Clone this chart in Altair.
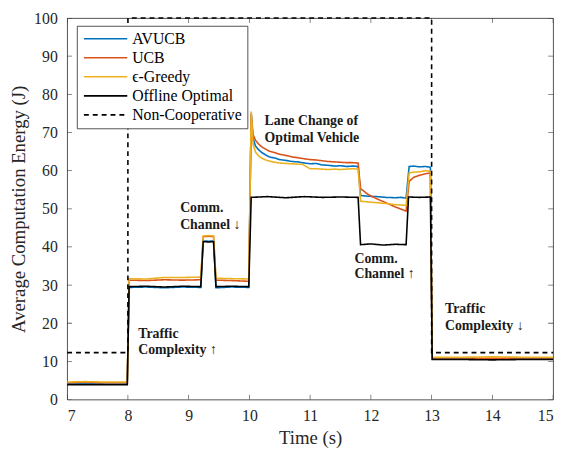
import altair as alt
import pandas as pd

FONT = "Liberation Serif, Times New Roman, Times, DejaVu Serif, serif"
INK = "#262626"

series_names = ["AVUCB", "UCB", "ϵ-Greedy", "Offline Optimal", "Non-Cooperative"]
series_colors = ["#0072BD", "#D95319", "#EDB120", "#000000", "#000000"]
series_dash = [[1, 0], [1, 0], [1, 0], [1, 0], [5, 4]]

x_ticks = [7, 8, 9, 10, 11, 12, 13, 14, 15]
y_ticks = [0, 10, 20, 30, 40, 50, 60, 70, 80, 90, 100]

# time samples shared by the three learning schemes
t_learn = [7.0, 7.3, 7.6, 7.99, 8.02, 8.3, 8.6, 8.9, 9.2, 9.24, 9.33, 9.41, 9.45, 9.7, 9.99,
           10.03, 10.06, 10.1, 10.15, 10.2, 10.27, 10.33, 10.42, 10.5, 10.6, 10.7, 10.8, 10.87,
           11.0, 11.1, 11.2, 11.3, 11.41, 11.5, 11.6, 11.7, 11.79,
           11.83, 11.95, 12.1, 12.25, 12.4, 12.5, 12.58,
           12.63, 12.7, 12.8, 12.9, 12.98,
           13.01, 13.5, 14.0, 14.5, 15.0]

avucb_v = [4.1, 4.2, 4.1, 4.1, 29.4, 29.5, 29.3, 29.5, 29.4, 41.6, 41.5, 41.6, 29.3, 29.5, 29.4,
           75.0, 68.5, 66.5, 65.5, 64.8, 64.1, 63.6, 63.3, 62.9, 62.7, 62.4, 62.3, 62.1,
           61.8, 61.9, 61.5, 61.4, 61.2, 61.3, 61.1, 61.2, 61.1,
           53.5, 53.3, 53.2, 53.0, 52.9, 53.0, 52.8,
           61.1, 61.2, 61.0, 61.1, 60.9,
           10.6, 10.6, 10.7, 10.6, 10.6]

ucb_v = [4.4, 4.5, 4.4, 4.4, 31.3, 31.2, 31.4, 31.3, 31.4, 42.7, 42.8, 42.7, 31.3, 31.2, 31.0,
         75.0, 69.5, 68.0, 67.0, 66.3, 65.6, 65.1, 64.7, 64.3, 64.0, 63.6, 63.4, 63.2,
         62.9, 62.8, 62.6, 62.4, 62.3, 62.2, 62.1, 62.1, 62.0,
         55.3, 53.8, 52.6, 51.6, 50.5, 49.9, 49.4,
         57.2, 58.2, 58.8, 59.2, 59.4,
         10.9, 10.9, 10.8, 10.9, 10.9]

greedy_v = [4.6, 4.7, 4.6, 4.6, 31.7, 31.6, 32.0, 32.0, 32.1, 42.9, 43.0, 42.9, 31.8, 31.7, 31.6,
            75.5, 67.0, 64.9, 63.9, 63.3, 62.8, 62.5, 62.2, 62.0, 61.9, 61.8, 61.7, 61.7,
            60.5, 60.5, 60.4, 60.3, 60.4, 60.3, 60.4, 60.5, 60.4,
            52.0, 51.8, 51.6, 51.4, 51.1, 51.0, 50.9,
            59.4, 59.6, 59.7, 60.0, 59.8,
            11.1, 11.1, 11.2, 11.1, 11.1]

t_opt = [7.0, 7.5, 7.99, 8.02, 8.3, 8.6, 8.9, 9.2, 9.24, 9.33, 9.41, 9.45, 9.7, 9.99,
         10.03, 10.3, 10.6, 10.9, 11.2, 11.5, 11.79, 11.83, 12.0, 12.2, 12.4, 12.58,
         12.62, 12.8, 12.98, 13.01, 13.5, 14.0, 14.5, 15.0]
opt_v = [3.9, 3.9, 3.9, 29.6, 29.7, 29.5, 29.7, 29.6, 41.4, 41.3, 41.4, 29.6, 29.7, 29.6,
         53.0, 53.2, 52.9, 53.2, 53.0, 53.1, 53.0, 40.6, 40.8, 40.5, 40.7, 40.6,
         53.1, 53.0, 53.1, 10.5, 10.5, 10.4, 10.5, 10.5]

t_noncoop = [7.0, 8.0, 8.0, 13.0, 13.0, 15.0]
noncoop_v = [12.3, 12.3, 100.0, 100.0, 12.3, 12.3]

ann_text = ["Lane Change of", "Optimal Vehicle", "Comm.", "Channel ↓", "Comm.", "Channel ↑",
            "Traffic", "Complexity ↑", "Traffic", "Complexity ↓"]
ann_t = [10.25, 10.25, 8.86, 8.86, 11.73, 11.73, 8.17, 8.17, 13.22, 13.22]
ann_v = [72.9, 68.5, 50.2, 45.7, 36.9, 32.8, 17.3, 12.9, 23.8, 19.2]

rows = []
for name, ts, vs in [("AVUCB", t_learn, avucb_v), ("UCB", t_learn, ucb_v),
                     ("ϵ-Greedy", t_learn, greedy_v), ("Offline Optimal", t_opt, opt_v),
                     ("Non-Cooperative", t_noncoop, noncoop_v)]:
    assert len(ts) == len(vs), name
    for i, (t, v) in enumerate(zip(ts, vs)):
        rows.append({"t": t, "v": v, "series": name, "i": i})
df = pd.DataFrame(rows)
ann = pd.DataFrame({"t": ann_t, "v": ann_v, "label": ann_text})
xt_df = pd.DataFrame({"t": x_ticks})
yt_df = pd.DataFrame({"v": y_ticks})

W, H = 493, 387
X_DOM = [7, 15]
Y_DOM = [0, 100]

xscale = alt.Scale(domain=X_DOM, nice=False, zero=False)
yscale = alt.Scale(domain=Y_DOM, nice=False)

axis_font = dict(labelFont=FONT, labelFontSize=16, labelColor=INK, labelFontWeight="normal",
                 titleFont=FONT, titleFontSize=19, titleFontWeight="normal", titleColor=INK)

ax_x_main = alt.Axis(orient="bottom", values=x_ticks, format="d", tickSize=0, domain=False,
                     grid=False, labelPadding=8, titlePadding=6, **axis_font)
ax_y_main = alt.Axis(orient="left", values=y_ticks, format="d", tickSize=0, domain=False,
                     grid=False, labelPadding=10, titlePadding=5, **axis_font)

legend_path = "M-4,0H4"

base = alt.Chart(df)
layers = []
for k, name in enumerate(series_names):
    if k == 0:
        xe = alt.X("t:Q", scale=xscale, axis=ax_x_main, title="Time (s)")
        ye = alt.Y("v:Q", scale=yscale, axis=ax_y_main, title="Average Computation Energy  (J)")
    else:
        xe = alt.X("t:Q", scale=xscale, axis=None)
        ye = alt.Y("v:Q", scale=yscale, axis=None)
    layers.append(
        base.transform_filter(alt.datum.series == name)
        .mark_line(strokeWidth=1.6)
        .encode(
            x=xe, y=ye,
            color=alt.Color("series:N", title=None,
                            scale=alt.Scale(domain=series_names, range=series_colors)),
            strokeDash=alt.StrokeDash("series:N", title=None,
                                      scale=alt.Scale(domain=series_names, range=series_dash)),
            order=alt.Order("i:Q"),
        )
    )

# inward ticks on all four sides (MATLAB box style); clipped to the plot area
tick_kw = dict(clip=True, size=10, thickness=0.8, color=INK)
xt_base = (alt.Chart(xt_df)
           .transform_calculate(lo=str(Y_DOM[0]), hi=str(Y_DOM[1]))
           .mark_tick(orient="vertical", **tick_kw))
yt_base = (alt.Chart(yt_df)
           .transform_calculate(lo=str(X_DOM[0]), hi=str(X_DOM[1]))
           .mark_tick(orient="horizontal", **tick_kw))
ticks = [
    xt_base.encode(x=alt.X("t:Q", scale=xscale, axis=None), y=alt.Y("lo:Q", scale=yscale, axis=None)),
    xt_base.encode(x=alt.X("t:Q", scale=xscale, axis=None), y=alt.Y("hi:Q", scale=yscale, axis=None)),
    yt_base.encode(y=alt.Y("v:Q", scale=yscale, axis=None), x=alt.X("lo:Q", scale=xscale, axis=None)),
    yt_base.encode(y=alt.Y("v:Q", scale=yscale, axis=None), x=alt.X("hi:Q", scale=xscale, axis=None)),
]

text = alt.Chart(ann).mark_text(
    align="left", baseline="middle", font=FONT, fontSize=14, fontWeight="bold", color="#1a1a1a"
).encode(
    x=alt.X("t:Q", scale=xscale, axis=None),
    y=alt.Y("v:Q", scale=yscale, axis=None),
    text="label:N",
)

chart = alt.layer(*layers, *ticks, text).resolve_axis(
    x="independent", y="independent"
).properties(
    width=W, height=H,
    autosize=alt.AutoSizeParams(type="none"),
    padding={"left": 60, "top": 7, "right": 8, "bottom": 52},
).configure_view(
    stroke=INK, strokeWidth=0.8
).configure_axis(
    **axis_font
).configure_legend(
    orient="none", legendX=10, legendY=8,
    symbolType=legend_path, symbolSize=121, symbolStrokeWidth=1.6,
    symbolOffset=16, labelOffset=19,
    labelFont=FONT, labelFontSize=16, labelColor="#000000",
    fillColor="white", strokeColor=INK, strokeWidth=0.8, cornerRadius=0,
    padding=5, rowPadding=3.3,
)

chart.save("out.html", embed_options={"renderer": "svg", "actions": False})
